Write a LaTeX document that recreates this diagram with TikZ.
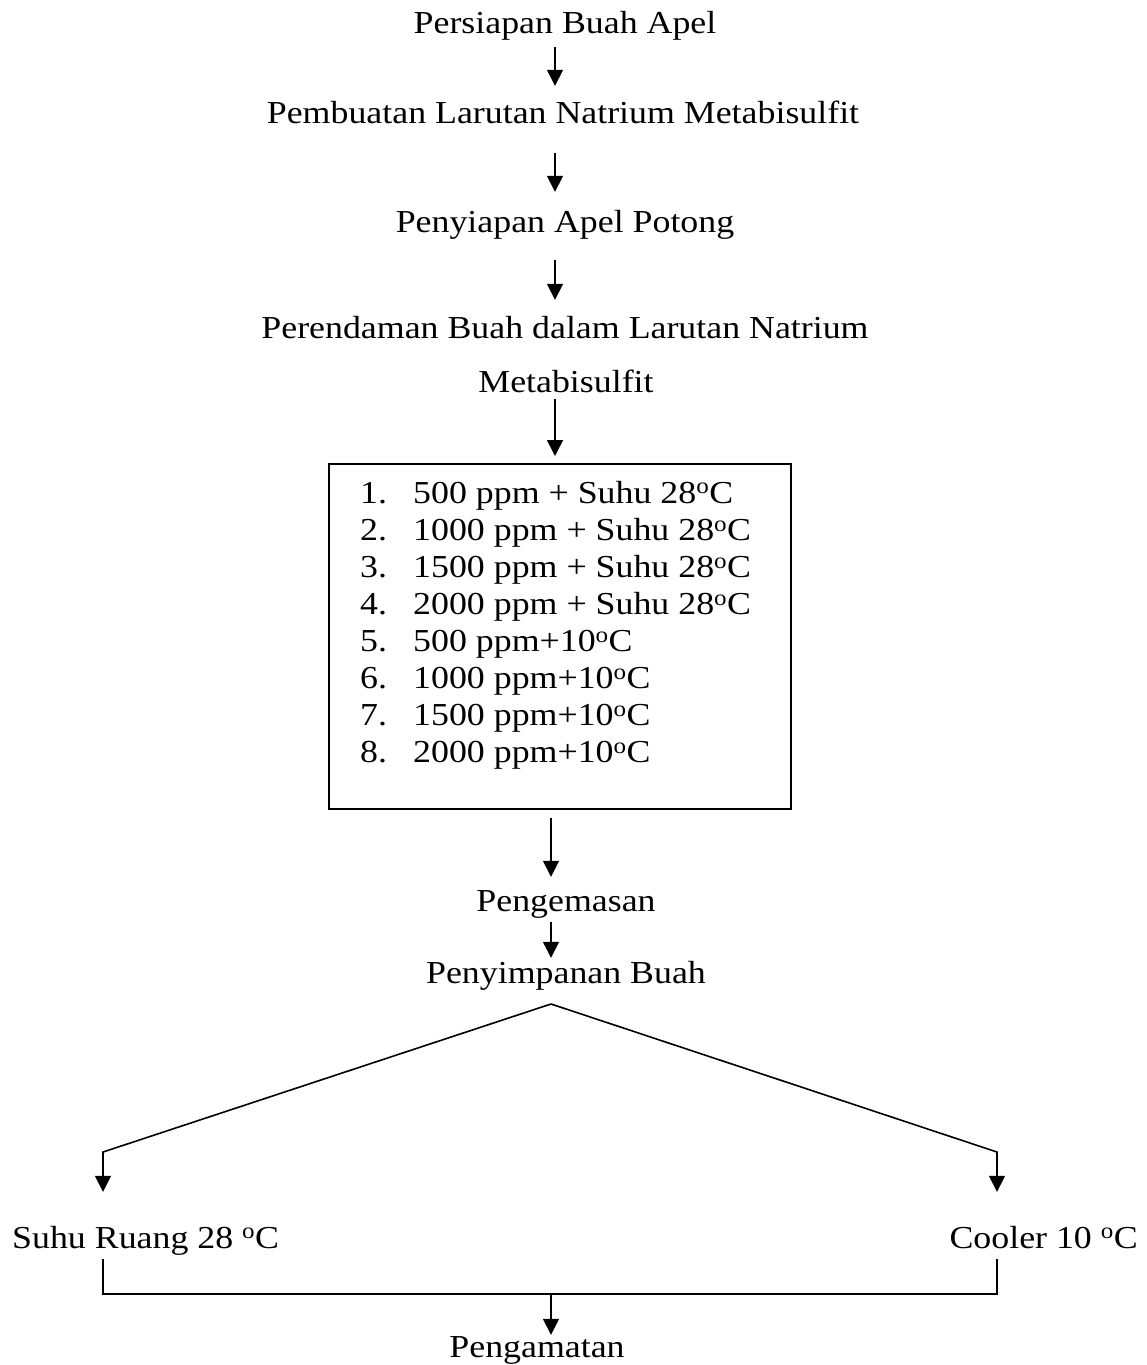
\documentclass[tikz,border=0pt]{standalone}
\usepackage{fontspec}
\setmainfont{Liberation Serif}[FakeStretch=1.12]
\usetikzlibrary{arrows.meta,calc}
\begin{document}
\begin{tikzpicture}[x=1pt,y=-1pt,
  lbl/.style={anchor=base, inner sep=0pt, font=\fontsize{32}{37}\selectfont, text height=22pt, text depth=7pt},
  itemlbl/.style={lbl, anchor=base west},
  arr/.style={line width=1.6pt, -{Triangle[width=16pt,length=16pt]}},
  ln/.style={line width=1.5pt},
  boxst/.style={draw, line width=2pt, inner sep=0pt},
]
\useasboundingbox (0,0) rectangle (1146,1365);
% column coordinates
\coordinate (ax) at (555,0);
\coordinate (bx) at (551,0);
\coordinate (lx) at (103,0);
\coordinate (rx) at (997,0);
% texts
\node[lbl] (t1) at (565,33) {Persiapan Buah Apel};
\node[lbl] (t2) at (563,123) {Pembuatan Larutan Natrium Metabisulfit};
\node[lbl] (t3) at (565,232) {Penyiapan Apel Potong};
\node[lbl] (t4) at (565,338) {Perendaman Buah dalam Larutan Natrium};
\node[lbl] (t5) at (566,392) {Metabisulfit};
\node[boxst, anchor=north west, minimum width=462pt, minimum height=345pt] (box) at (328,463) {};
\foreach \k/\t in {1/500 ppm + Suhu 28\textsuperscript{o}C,
                   2/1000 ppm + Suhu 28\textsuperscript{o}C,
                   3/1500 ppm + Suhu 28\textsuperscript{o}C,
                   4/2000 ppm + Suhu 28\textsuperscript{o}C,
                   5/500 ppm+10\textsuperscript{o}C,
                   6/1000 ppm+10\textsuperscript{o}C,
                   7/1500 ppm+10\textsuperscript{o}C,
                   8/2000 ppm+10\textsuperscript{o}C}{
  \node[itemlbl] (n\k) at (360,{503+37.1*(\k-1)}) {\k.};
  \node[itemlbl] (i\k) at (413,{503+37.1*(\k-1)}) {\t};
}
\node[lbl] (t6) at (566,911) {Pengemasan};
\node[lbl] (t7) at (566,983) {Penyimpanan Buah};
\node[lbl, anchor=base west] (s1) at (12,1248) {Suhu Ruang 28 \textsuperscript{o}C};
\node[lbl, anchor=base east] (s2) at (1138,1248) {Cooler 10 \textsuperscript{o}C};
\node[lbl] (t8) at (537,1357) {Pengamatan};
% connectors
\draw[arr, shorten <=7pt, shorten >=15pt] (t1.south -| ax) -- (t2.north -| ax);
\draw[arr, shorten <=23pt, shorten >=18pt] (t2.south -| ax) -- (t3.north -| ax);
\draw[arr, shorten <=21pt, shorten >=16pt] (t3.south -| ax) -- (t4.north -| ax);
\draw[arr, shorten >=7pt] (t5.south -| ax) -- (box.north -| ax);
\draw[arr, shorten <=8pt, shorten >=12pt] (box.south -| bx) -- (t6.north -| bx);
\draw[arr, shorten <=4pt, shorten >=3pt] (t6.south -| bx) -- (t7.north -| bx);
\coordinate (apex) at (551,1004);
\coordinate (lc) at (103,1152);
\coordinate (rc) at (997,1152);
\draw[arr, shorten >=34pt] (apex) -- (lc) -- (lc |- s1.north);
\draw[arr, shorten >=34pt] (apex) -- (rc) -- (rc |- s2.north);
\coordinate (mid) at (551,1294);
\draw[ln] ([yshift=-4pt]s1.south -| lx) |- (mid) -| ([yshift=-4pt]s2.south -| rx);
\draw[arr] (mid) -- (t8.north -| mid);
\end{tikzpicture}
\end{document}
